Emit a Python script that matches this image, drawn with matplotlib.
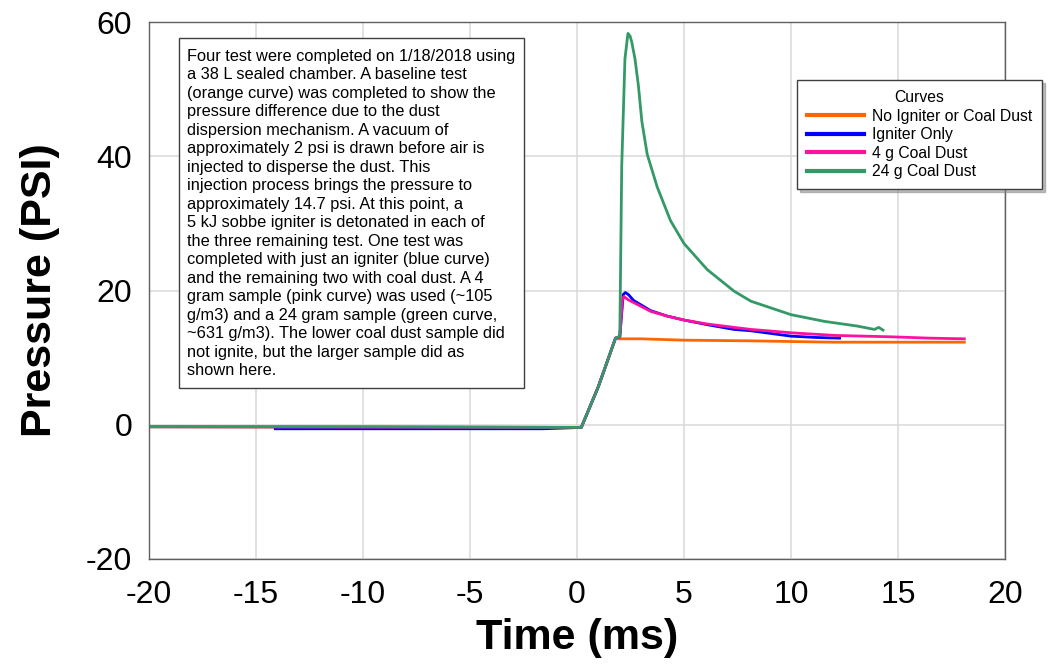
import matplotlib
matplotlib.use("Agg")
import matplotlib.pyplot as plt
from matplotlib.patches import Rectangle

plt.rcParams['font.family'] = ['Liberation Sans', 'DejaVu Sans']
plt.rcParams['axes.unicode_minus'] = False

# Pressure traces, time in ms, pressure in psi
t_base = [-20, 0.2, 1.0, 1.8, 2.0, 3.0, 5.0, 8.13, 10.0, 12.0, 15.0, 18.1]
p_base = [-0.3, -0.4, 5.7, 12.9, 12.8, 12.8, 12.6, 12.5, 12.4, 12.3, 12.3, 12.3]

t_igniter = [-14.1, -1.6, 0.2, 1.0, 1.8, 2.0, 2.16, 2.26, 2.4, 2.65, 2.97, 3.44,
             4.2, 5.0, 6.1, 7.34, 8.13, 10.0, 11.2, 12.27]
p_igniter = [-0.6, -0.6, -0.4, 5.7, 12.9, 13.1, 19.4, 19.7, 19.4, 18.5, 17.9, 17.0,
             16.2, 15.6, 14.9, 14.2, 14.0, 13.2, 13.0, 12.9]

t_4g = [-20, 0.2, 1.0, 1.8, 2.0, 2.12, 2.19, 2.4, 2.65, 3.44, 4.2, 5.0, 6.1,
        7.34, 8.13, 10.0, 12.1, 14.7, 16.5, 18.1]
p_4g = [-0.3, -0.4, 5.7, 12.9, 13.1, 18.6, 19.1, 18.6, 18.2, 16.9, 16.2, 15.6, 15.0,
        14.5, 14.2, 13.7, 13.3, 13.1, 12.9, 12.8]

t_24g = [-20, -10, 0.2, 1.0, 1.8, 2.0, 2.09, 2.24, 2.38, 2.48, 2.56, 2.71, 2.87,
         3.03, 3.28, 3.75, 4.37, 5.0, 6.09, 7.34, 8.13, 10.0, 11.56, 13.1, 13.9,
         14.1, 14.3]
p_24g = [-0.3, -0.3, -0.4, 5.7, 12.9, 13.2, 38.5, 54.5, 58.3, 57.9, 57.0, 54.5, 50.5,
         45.2, 40.3, 35.4, 30.4, 27.0, 23.1, 19.9, 18.4, 16.4, 15.4, 14.7, 14.2,
         14.5, 14.1]

labels = ['No Igniter or Coal Dust', 'Igniter Only', '4 g Coal Dust', '24 g Coal Dust']
colors = ['#FF6600', '#0000FF', '#FF11A0', '#339966']
xticks = [-20, -15, -10, -5, 0, 5, 10, 15, 20]
yticks = [-20, 0, 20, 40, 60]

note = ("Four test were completed on 1/18/2018 using\n"
        "a 38 L sealed chamber. A baseline test\n"
        "(orange curve) was completed to show the\n"
        "pressure difference due to the dust\n"
        "dispersion mechanism. A vacuum of\n"
        "approximately 2 psi is drawn before air is\n"
        "injected to disperse the dust. This\n"
        "injection process brings the pressure to\n"
        "approximately 14.7 psi. At this point, a\n"
        "5 kJ sobbe igniter is detonated in each of\n"
        "the three remaining test. One test was\n"
        "completed with just an igniter (blue curve)\n"
        "and the remaining two with coal dust. A 4\n"
        "gram sample (pink curve) was used (~105\n"
        "g/m3) and a 24 gram sample (green curve,\n"
        "~631 g/m3). The lower coal dust sample did\n"
        "not ignite, but the larger sample did as\n"
        "shown here.")

W, H = 1054, 664
fig = plt.figure(figsize=(W / 100, H / 100), dpi=100)
ax = fig.add_axes([149 / W, 1 - 559 / H, (1005 - 149) / W, (559 - 22) / H])

series = [(t_base, p_base), (t_igniter, p_igniter), (t_4g, p_4g), (t_24g, p_24g)]
for (t, p), lab, c in zip(series, labels, colors):
    ax.plot(t, p, color=c, lw=2.0, label=lab)

ax.set_xlim(-20, 20)
ax.set_ylim(-20, 60)
ax.set_xticks(xticks)
ax.set_yticks(yticks)
ax.grid(True, color='#D9D9D9', lw=1.1)
ax.set_axisbelow(True)
ax.tick_params(axis='both', length=0, labelsize=23)
ax.tick_params(axis='x', pad=15)
ax.tick_params(axis='y', pad=12)
for s in ax.spines.values():
    s.set_color('#606060')
    s.set_linewidth(1.0)

ax.set_xlabel('Time (ms)', fontsize=31, fontweight='bold')
ax.xaxis.set_label_coords(0.5, -0.147)
ax.xaxis.label.set_va('center')
ax.set_ylabel('Pressure (PSI)', fontsize=31, fontweight='bold')
ax.yaxis.set_label_coords(-0.127, 0.5)
ax.yaxis.label.set_va('center')

# description box
fig.add_artist(Rectangle((179 / W, 1 - 388 / H), (524 - 179) / W, (388 - 38) / H,
                         transform=fig.transFigure, facecolor='white',
                         edgecolor='#404040', lw=1.0, zorder=5))
fig.text(187 / W, 1 - 49 / H, note, fontsize=11.8, va='top', ha='left',
         linespacing=1.29, zorder=6)

leg = ax.legend(title='Curves', loc='upper left', bbox_to_anchor=(797 / W, 1 - 80 / H),
                bbox_transform=fig.transFigure, fontsize=11.3, title_fontsize=11.3,
                frameon=True, fancybox=False,
                shadow={'ox': 2, 'oy': -2, 'color': '#7F7F7F'},
                borderpad=0.65, labelspacing=0.22, handlelength=3.6,
                handletextpad=0.5, borderaxespad=0)
leg.get_frame().set_edgecolor('#404040')
leg.get_frame().set_linewidth(1.0)
for h in leg.get_lines():
    h.set_linewidth(3.0)

fig.savefig('out.png', dpi=100)
